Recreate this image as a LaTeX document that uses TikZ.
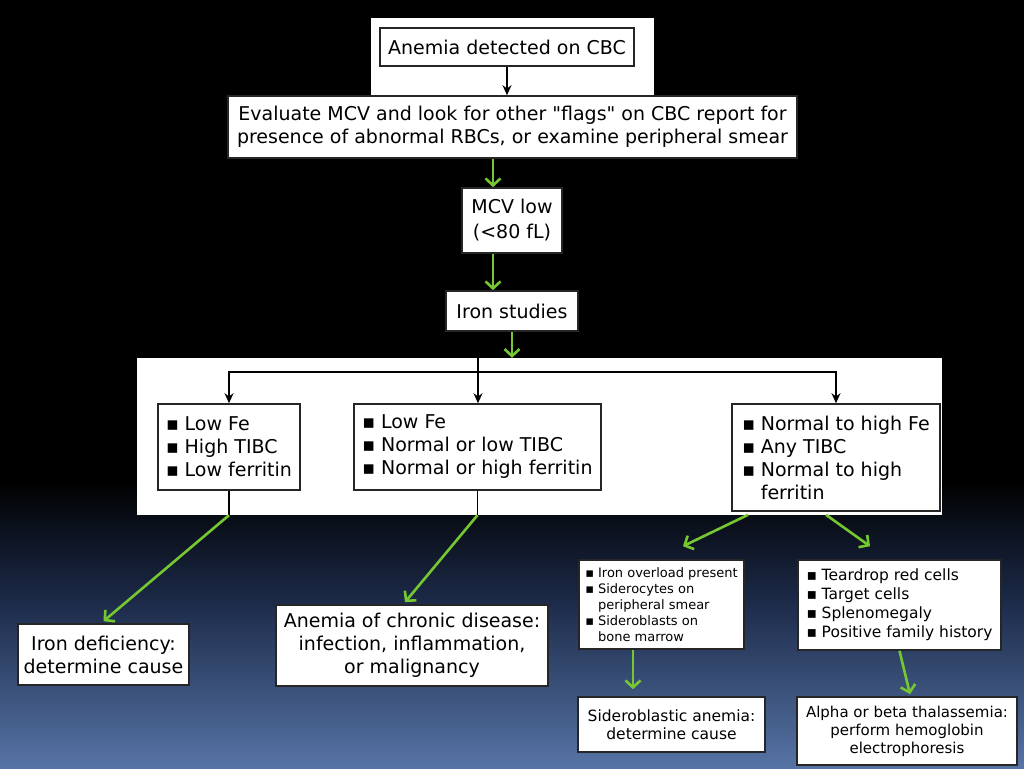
\documentclass[tikz,border=0pt]{standalone}
\usepackage{fontspec}
\setmainfont{DejaVu Sans}[Ligatures=TeXOff]
\usetikzlibrary{arrows.meta}
\definecolor{grn}{RGB}{118,200,48}
\definecolor{bgblue}{RGB}{86,116,166}
\definecolor{bgmid}{RGB}{28,42,72}
\newcommand{\blt}{▪\hspace{0.3em}}
\begin{document}
\begin{tikzpicture}[x=1pt,y=-1pt,
 box/.style={draw=black!85, line width=1.6pt, fill=white, inner sep=0pt, align=center, font=\fontsize{19}{23}\selectfont},
 lbox/.style={box, align=left},
 panel/.style={fill=white, inner sep=0pt},
 bline/.style={line width=1.5pt},
 barrow/.style={line width=1.5pt, -{Stealth[length=10pt,width=9pt]}},
 garrow/.style={grn, line width=2.6pt, -{Straight Barb[length=7pt,width=15pt,line width=2.6pt]}},
]
\fill[black] (0,0) rectangle (1024,768);
\shade[top color=black, bottom color=bgmid] (0,480) rectangle (1024,601);
\shade[top color=bgmid, bottom color=bgblue] (0,600) rectangle (1024,768);
\useasboundingbox (0,0) rectangle (1024,768);

% panels
\node[panel, minimum width=283, minimum height=77] (p1) at (512.5,56.5) {};
\node[panel, minimum width=805, minimum height=157] (p3) at (539.5,436.5) {};

% boxes
\node[box, minimum width=254, minimum height=38] (anemia) at (507,47) {Anemia detected on CBC};
\node[box, minimum width=569, minimum height=62] (eval) at (512.5,127) {Evaluate MCV and look for other "flags" on CBC report for\\presence of abnormal RBCs, or examine peripheral smear};
\node[box, minimum width=100, minimum height=65, font=\fontsize{19}{25}\selectfont] (mcv) at (512,220.5) {MCV low\\(<80 fL)};
\node[box, minimum width=132, minimum height=40] (iron) at (512,311) {Iron studies};

\node[lbox, minimum width=142, minimum height=86] (a) at (229,447) {\blt Low Fe\\\blt High TIBC\\\blt Low ferritin};
\node[lbox, minimum width=247, minimum height=86] (b) at (477.5,447) {\blt Low Fe\\\blt Normal or low TIBC\\\blt Normal or high ferritin};
\node[lbox, minimum width=208, minimum height=107] (c) at (836,457.5) {\blt Normal to high Fe\\\blt Any TIBC\\\blt Normal to high\\\phantom{\blt}ferritin};

\node[box, minimum width=171, minimum height=61] (idef) at (103.5,654.5) {Iron deficiency:\\determine cause};
\node[box, minimum width=272, minimum height=81] (acd) at (412,645.5) {Anemia of chronic disease:\\infection, inflammation,\\or malignancy};
\node[lbox, minimum width=165, minimum height=89, font=\fontsize{13}{16}\selectfont] (sl) at (661.5,604.5) {\blt Iron overload present\\\blt Siderocytes on\\\phantom{\blt}peripheral smear\\\blt Sideroblasts on\\\phantom{\blt}bone marrow};
\node[lbox, minimum width=203, minimum height=90, font=\fontsize{15.5}{19}\selectfont] (tl) at (899.5,605) {\blt Teardrop red cells\\\blt Target cells\\\blt Splenomegaly\\\blt Positive family history};
\node[box, minimum width=187, minimum height=55, font=\fontsize{15.5}{18}\selectfont] (sa) at (671.5,724.5) {Sideroblastic anemia:\\determine cause};
\node[box, minimum width=220, minimum height=68, font=\fontsize{15}{18}\selectfont] (th) at (907,731) {Alpha or beta thalassemia:\\perform hemoglobin\\electrophoresis};

% connectors
\draw[barrow] (anemia.south) -- (anemia.south |- eval.north);
\draw[garrow] ([xshift=-19.5pt]eval.south) -- ([xshift=-19.5pt]eval.south |- mcv.north);
\draw[garrow] ([xshift=-19pt]mcv.south) -- ([xshift=-19pt]mcv.south |- iron.north);
\draw[garrow] (iron.south) -- (iron.south |- p3.north);

\coordinate (j) at (478,372);
\draw[bline] (j |- p3.north) -- (j);
\draw[barrow] (j) -| (a.north);
\draw[barrow] (j) -- (j |- b.north);
\draw[barrow] (j) -| (c.north);

\draw[bline] (a.south) -- (a.south |- p3.south);
\draw[garrow] (a.south |- p3.south) -- ([yshift=2pt]idef.north);
\draw[bline] (b.south) -- (b.south |- p3.south);
\draw[garrow] (b.south |- p3.south) -- ([shift={(-7pt,2pt)}]acd.north);

\draw[garrow] ([shift={(-88pt,-3pt)}]c.south) -- ([shift={(21.5pt,13pt)}]sl.north);
\draw[garrow] ([shift={(-10pt,-3pt)}]c.south) -- ([shift={(-29.5pt,13pt)}]tl.north);

\draw[garrow] ([xshift=-28.5pt]sl.south) -- ([shift={(-28.5pt,7pt)}]sl.south |- sa.north);
\draw[garrow] (tl.south) -- ([shift={(3pt,2pt)}]th.north);
\end{tikzpicture}
\end{document}
